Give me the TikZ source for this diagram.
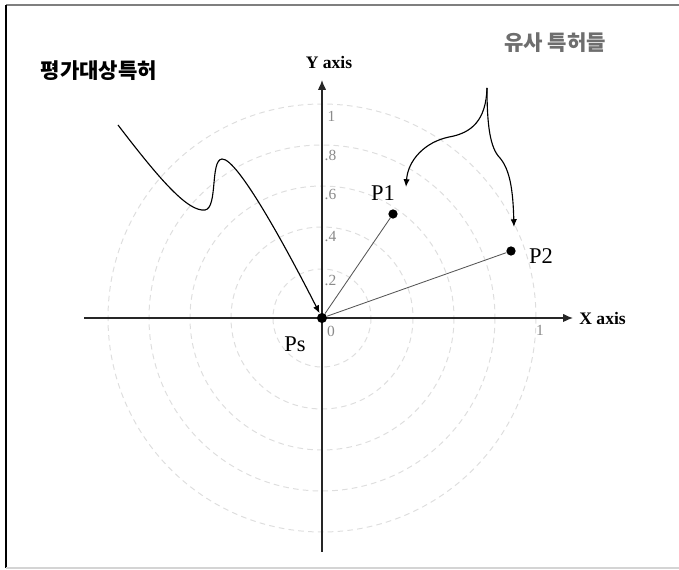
\documentclass[tikz,border=0pt]{standalone}
\usepackage{fontspec}
\setmainfont{Liberation Serif}
\newfontfamily\kofont{Noto Sans CJK KR}
\usepackage{xcolor}
\usetikzlibrary{arrows.meta, positioning}
\definecolor{framegray}{HTML}{7F7F7F}
\definecolor{framelight}{HTML}{D4D4D4}
\definecolor{ringgray}{HTML}{DEDEDE}
\definecolor{ticktext}{HTML}{8A8A8A}
\definecolor{vecgray}{HTML}{555555}
\definecolor{simgray}{HTML}{6E6E6E}

\begin{document}
\begin{tikzpicture}[
    x=0.025cm, y=-0.025cm,
    every node/.style={font=\fontsize{16}{18}\selectfont},
    axis/.style={-{Latex[length=7pt, width=6pt]}, line width=1pt, black!85},
    ring/.style={draw=ringgray, dashed, dash pattern=on 4pt off 3pt, line width=0.7pt},
    tick/.style={font=\fontsize{11}{12}\selectfont, text=ticktext, inner sep=1pt},
    dot/.style={circle, fill=black, inner sep=0pt, minimum size=6.6pt},
    vec/.style={line width=0.6pt, vecgray},
    link/.style={-{Latex[length=5.5pt, width=4.5pt]}, line width=0.8pt, black},
    axlabel/.style={font=\fontsize{12.5}{14}\selectfont\bfseries},
    kolabel/.style={font=\fontsize{15}{17}\selectfont\kofont\bfseries}
]

\useasboundingbox (0,0) rectangle (679,570);

% frame
\draw[framegray, line width=1.2pt] (6,5) -- (679,5);
\draw[black, line width=1pt] (6,5) -- (6,568);
\draw[framelight, line width=0.8pt] (6,568) -- (679,568);

% similarity rings
\foreach \r in {49,91,132,173,214}
    \draw[ring] (322,318) circle (\r);

% axes
\coordinate (xl) at (84,318);
\coordinate (xr) at (573,318);
\coordinate (yb) at (322,552);
\coordinate (yt) at (322,80);
\draw[axis] (xl) -- (xr);
\draw[axis] (yb) -- (yt);
\node[axlabel, right=1pt of xr] (xlab) {X axis};
\node[axlabel] (ylab) at (329,62) {Y axis};

% tick labels
\node[tick, anchor=west] (t10) at (326,116) {1};
\node[tick, anchor=west] (t08) at (323,155) {.8};
\node[tick, anchor=west] (t06) at (323,194) {.6};
\node[tick, anchor=west] (t04) at (323,237) {.4};
\node[tick, anchor=west] (t02) at (323,280) {.2};
\node[tick] (t00) at (331,331) {0};
\node[tick] (x10) at (540,330) {1};

% points
\node[dot, minimum size=7.2pt] (ps) at (322,318) {};
\node[dot] (p1) at (393,214) {};
\node[dot] (p2) at (511,251) {};
\node (pslab) at (295,344) {Ps};
\node (p1lab) at (383,193) {P1};
\node (p2lab) at (541,256) {P2};

\draw[vec] (ps) -- (p1);
\draw[vec] (ps) -- (p2);

% patent labels
\node[kolabel] (target) at (99,71) {평가대상특허};
\node[kolabel, text=simgray] (similar) at (555,43) {유사 특허들};

% connectors
\coordinate (tstart) at (118,125);
\coordinate (sstart) at (487,88);
\coordinate (p1tip) at (406,187);
\coordinate (p2tip) at (514,227);

\draw[link] (tstart) .. controls (160,180) and (188,212) .. (205,210)
    .. controls (218,208) and (210,160) .. (222,159)
    .. controls (238,158) and (290,255) .. (ps);
\draw[link] (sstart) .. controls (486,120) and (472,133) .. (449,137)
    .. controls (425,142) and (408,160) .. (p1tip);
\draw[link] (sstart) .. controls (487,125) and (490,148) .. (500,158)
    .. controls (510,170) and (513,190) .. (p2tip);

\end{tikzpicture}
\end{document}
